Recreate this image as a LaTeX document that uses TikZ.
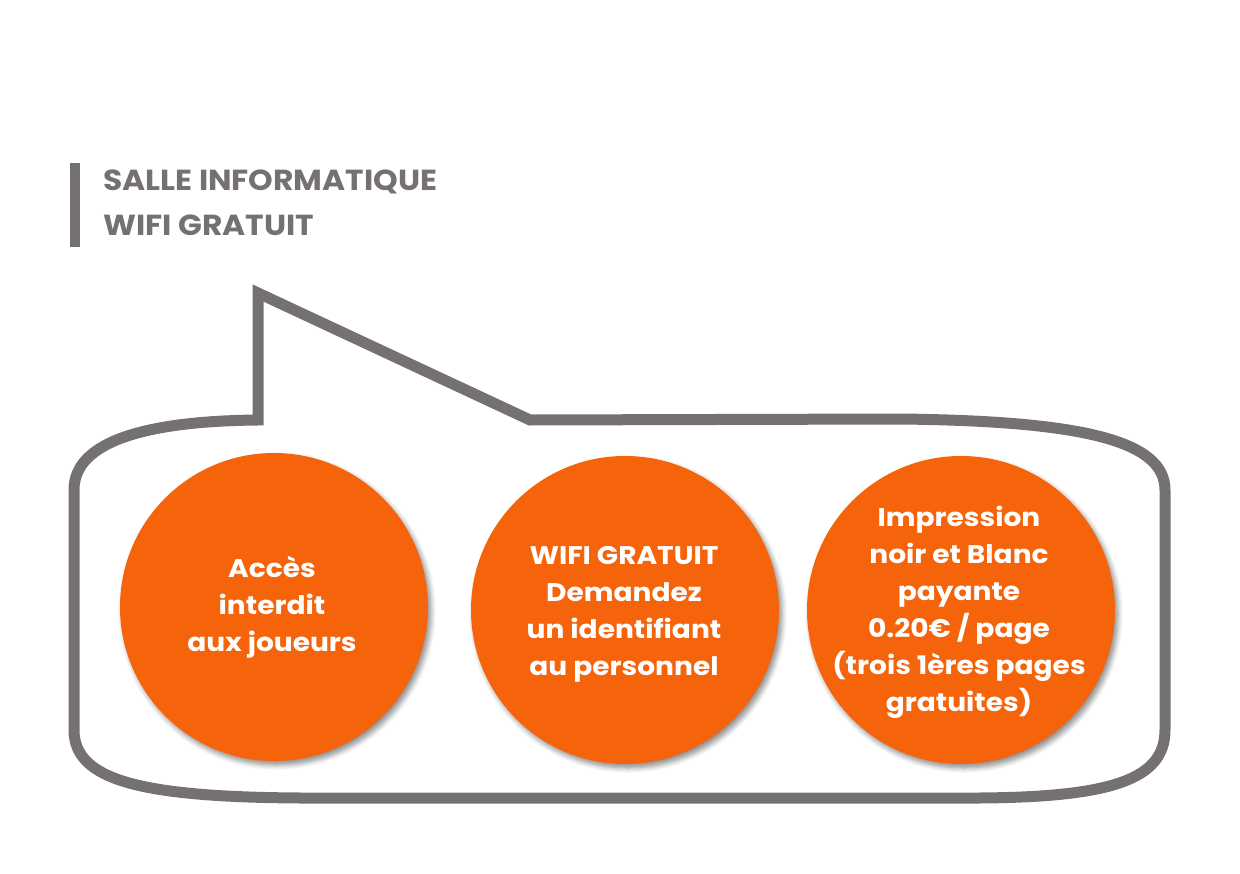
\documentclass[tikz,border=0pt]{standalone}
\usepackage{fontspec}
\setmainfont{Poppins}
\usetikzlibrary{shadows.blur}
\definecolor{bgray}{HTML}{767171}
\definecolor{orng}{HTML}{F5630A}
\tikzset{
  bubble/.style={draw=bgray, line width=11pt, line join=miter},
  disc/.style={circle, fill=orng, minimum size=308pt, inner sep=0pt,
    blur shadow={shadow xshift=3pt, shadow yshift=-4pt, shadow blur steps=6, shadow blur radius=5pt, shadow opacity=45}},
  disctext/.style={text=white, align=center, xscale=1.1, transform shape, font=\fontsize{25.5}{37}\selectfont\bfseries},
  title/.style={text=bgray, anchor=base west, inner sep=0pt, xscale=1.08, transform shape, font=\fontsize{29}{30}\selectfont\bfseries}
}
\begin{document}
\begin{tikzpicture}[x=1pt, y=-1pt]
\useasboundingbox (0,0) rectangle (1240,874);
% title bar and title
\fill[bgray] (70,163) rectangle (80,247);
\node[title] (t1) at (103,191) {SALLE INFORMATIQUE};
\node[title] (t2) at (103,236) {WIFI GRATUIT};
% speech bubble
\draw[bubble] (258,420) -- (258,293) -- (530,420) -- (900,419)
  .. controls (1080,421) and (1165,440) .. (1165,490)
  -- (1165,730)
  .. controls (1165,780) and (1110,797) .. (980,798)
  -- (300,798)
  .. controls (140,797) and (74,780) .. (74,730)
  -- (74,490)
  .. controls (74,440) and (150,421) .. (258,420) -- cycle;
% circles
\node[disc] (c1) at (274,607) {};
\node[disc] (c2) at (625,610) {};
\node[disc] (c3) at (961,610) {};
\node[disctext] (x1) at (272,607) {Accès\\interdit\\aux joueurs};
\node[disctext] (x2) at (624,614) {WIFI GRATUIT\\Demandez\\un identifiant\\au personnel};
\node[disctext] (x3) at (959,612) {Impression\\noir et Blanc\\payante\\0.20€ / page\\(trois 1ères pages\\gratuites)};
\end{tikzpicture}
\end{document}
